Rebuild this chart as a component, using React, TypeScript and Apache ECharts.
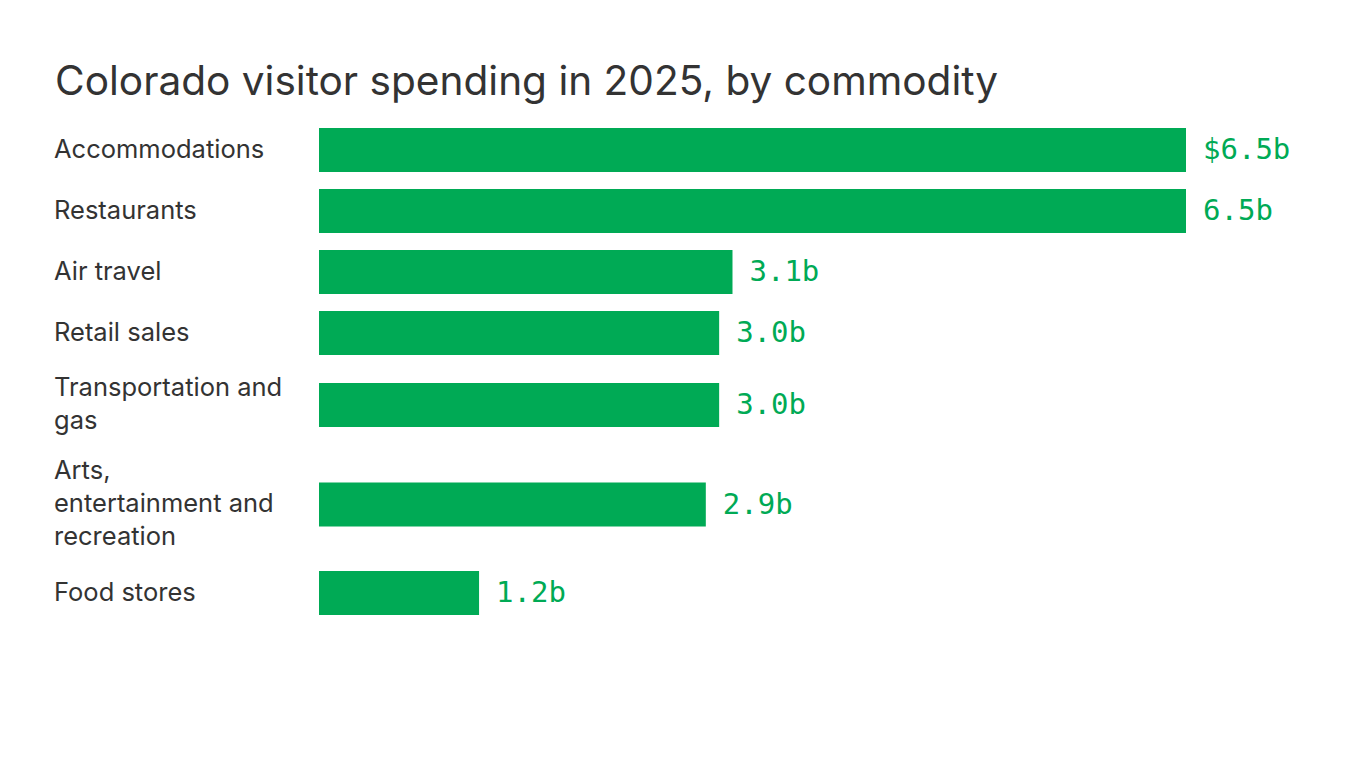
import React, { useEffect, useRef } from "react";
import * as echarts from "echarts";

const categories = [
  "Accommodations",
  "Restaurants",
  "Air travel",
  "Retail sales",
  "Transportation and\ngas",
  "Arts,\nentertainment and\nrecreation",
  "Food stores",
];
const values = [6.5, 6.5, 3.1, 3.0, 3.0, 2.9, 1.2];
const valueLabels = ["$6.5b", "6.5b", "3.1b", "3.0b", "3.0b", "2.9b", "1.2b"];
const titleText = "Colorado visitor spending in 2025, by commodity";

const GREEN = "#00aa55";
const TEXT = "#333333";
const BAR_H = 44;
const LINE_H = 33;
const GAP = 17;
const GRID_LEFT = 319;
const GRID_TOP = 119.5;
const LABEL_X = 54;
const X_MAX = 6.5;
const GRID_W = 867;

// row layout computed from the number of label lines
const rowHeights = categories.map(
  (c) => Math.max(BAR_H, c.split("\n").length * LINE_H) + GAP
);
const rowCenters: number[] = [];
{
  let acc = 0;
  rowHeights.forEach((h) => {
    rowCenters.push(acc + h / 2);
    acc += h;
  });
}
const totalRows = rowHeights.reduce((a, b) => a + b, 0);

export default function App() {
  const ref = useRef<HTMLDivElement>(null);
  useEffect(() => {
    if (!ref.current) return;
    const chart = echarts.init(ref.current, undefined, { renderer: "svg" });
    chart.setOption({
      animation: false,
      backgroundColor: "#ffffff",
      title: {
        text: titleText,
        left: 50,
        top: 55,
        textStyle: {
          fontFamily: "Inter",
          fontSize: 40.6,
          fontWeight: 400,
          color: TEXT,
        },
      },
      grid: {
        left: GRID_LEFT,
        top: GRID_TOP,
        width: GRID_W,
        height: totalRows,
      },
      xAxis: {
        type: "value",
        min: 0,
        max: X_MAX,
        show: false,
      },
      yAxis: {
        type: "value",
        min: 0,
        max: totalRows,
        inverse: true,
        show: false,
      },
      series: [
        {
          type: "custom",
          data: values.map((v, i) => [v, rowCenters[i], i]),
          renderItem: (params: any, api: any) => {
            const v = api.value(0);
            const pos = api.value(1);
            const idx = api.value(2);
            const start = api.coord([0, pos]);
            const end = api.coord([v, pos]);
            return {
              type: "group",
              children: [
                {
                  type: "rect",
                  shape: {
                    x: start[0],
                    y: start[1] - BAR_H / 2,
                    width: end[0] - start[0],
                    height: BAR_H,
                  },
                  style: { fill: GREEN },
                },
                {
                  type: "text",
                  x: end[0] + 17,
                  y: end[1] - 1,
                  style: {
                    text: valueLabels[idx],
                    fill: GREEN,
                    font: "29px 'DejaVu Sans Mono'",
                    align: "left",
                    verticalAlign: "middle",
                  },
                },
                {
                  type: "text",
                  x: LABEL_X,
                  y: start[1] - 2,
                  style: {
                    text: categories[idx],
                    fill: TEXT,
                    font: "25.5px Inter",
                    lineHeight: LINE_H,
                    align: "left",
                    verticalAlign: "middle",
                  },
                },
              ],
            };
          },
        },
      ],
    });
    return () => chart.dispose();
  }, []);
  return (
    <div
      ref={ref}
      style={{ position: "absolute", left: 0, top: 0, width: 1366, height: 768 }}
    />
  );
}
